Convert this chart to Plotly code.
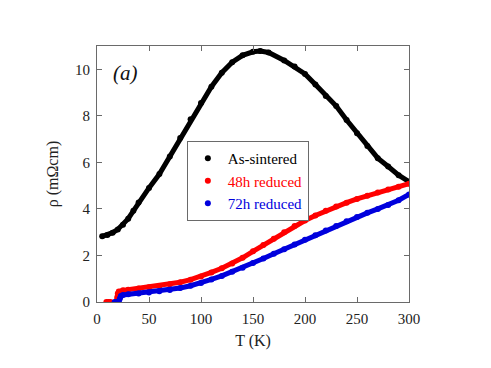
import plotly.graph_objects as go

# As-sintered sample
t_sint = [5, 10, 15, 20, 25, 30, 35, 40, 50, 60, 70, 80, 90, 100, 110, 120, 130,
          140, 150, 157, 165, 180, 190, 200, 210, 220, 230, 240, 250, 260, 270,
          280, 290, 300]
rho_sint = [2.82, 2.88, 2.98, 3.12, 3.32, 3.58, 3.92, 4.28, 4.9, 5.5, 6.25, 7.05,
            7.85, 8.55, 9.25, 9.85, 10.3, 10.6, 10.75, 10.78, 10.72, 10.38,
            10.12, 9.8, 9.35, 8.85, 8.42, 7.82, 7.25, 6.7, 6.18, 5.82, 5.45, 5.17]

# 48h reduced (None breaks the trace before the transition)
t_48 = [9, 11, 13, None, 19, 19.5, 20, 21, 25, 30, 40, 50, 60, 70, 80, 90, 100,
        110, 120, 130, 140, 150, 160, 170, 180, 190, 200, 210, 220, 230, 240,
        250, 260, 270, 280, 290, 300]
rho_48 = [0, 0, 0, None, 0.05, 0.2, 0.36, 0.45, 0.5, 0.53, 0.58, 0.63, 0.69, 0.76,
          0.85, 0.96, 1.1, 1.27, 1.45, 1.65, 1.9, 2.18, 2.45, 2.72, 3.0, 3.27,
          3.5, 3.72, 3.92, 4.1, 4.27, 4.43, 4.57, 4.7, 4.83, 4.95, 5.08]

# 72h reduced
t_72 = [17, 19, 21, 22, 23, 25, 30, 40, 50, 60, 70, 80, 90, 100, 110, 120, 130,
        140, 150, 160, 170, 180, 190, 200, 210, 220, 230, 240, 250, 260, 270,
        280, 290, 300]
rho_72 = [0, 0, 0.02, 0.15, 0.26, 0.3, 0.33, 0.37, 0.41, 0.46, 0.52, 0.6, 0.7,
          0.82, 0.97, 1.12, 1.3, 1.47, 1.68, 1.87, 2.07, 2.27, 2.47, 2.67, 2.87,
          3.07, 3.27, 3.47, 3.65, 3.83, 4.0, 4.17, 4.37, 4.62]

series_names = ["As-sintered", "48h reduced", "72h reduced"]
series_colors = ["#000000", "#ff0000", "#0000dd"]

FONT = "Liberation Serif"
AXIS_COLOR = "#6a6a6a"

fig = go.Figure()

for t, rho, color in zip([t_sint, t_48, t_72], [rho_sint, rho_48, rho_72], series_colors):
    fig.add_trace(go.Scatter(
        x=t, y=rho, mode="lines+markers",
        line=dict(color=color, width=5),
        marker=dict(color=color, size=6),
        showlegend=False, hoverinfo="skip"
    ))

# legend-only entries: dot marker and coloured text
for name, color in zip(series_names, series_colors):
    fig.add_trace(go.Scatter(
        x=[None], y=[None], mode="markers",
        marker=dict(color=color, size=6),
        name=f"<span style='color:{color}'>{name}</span>"
    ))

axis_common = dict(
    showline=True, linecolor=AXIS_COLOR, linewidth=1, mirror="ticks",
    ticks="inside", ticklen=5, tickcolor=AXIS_COLOR, showgrid=False,
    zeroline=False, automargin=False, ticklabelstandoff=3,
    tickfont=dict(family=FONT, size=15, color="#222"),
)

# the page body adds an 8px offset, so margins are shifted accordingly
fig.update_layout(
    width=491, height=368,
    paper_bgcolor="white", plot_bgcolor="white",
    margin=dict(l=89, r=90, t=38, b=74),
    font=dict(family=FONT, color="#222"),
    xaxis=dict(range=[0, 300], tickvals=[0, 50, 100, 150, 200, 250, 300],
               title=dict(text="T (K)", font=dict(family=FONT, size=16), standoff=8),
               **axis_common),
    yaxis=dict(range=[0, 11], tickvals=[0, 2, 4, 6, 8, 10],
               title=dict(text="ρ (mΩcm)", font=dict(family=FONT, size=16), standoff=12),
               **axis_common),
    legend=dict(x=0.288, y=0.629, xanchor="left", yanchor="top",
                bordercolor=AXIS_COLOR, borderwidth=1, bgcolor="white",
                font=dict(family=FONT, size=15), tracegroupgap=0,
                itemwidth=30),
    annotations=[dict(
        text="<i>(a)</i>", xref="paper", yref="paper", x=0.045, y=0.95,
        xanchor="left", yanchor="top", showarrow=False,
        font=dict(family=FONT, size=21, color="#111")
    )],
)

fig.write_html("out.html")
